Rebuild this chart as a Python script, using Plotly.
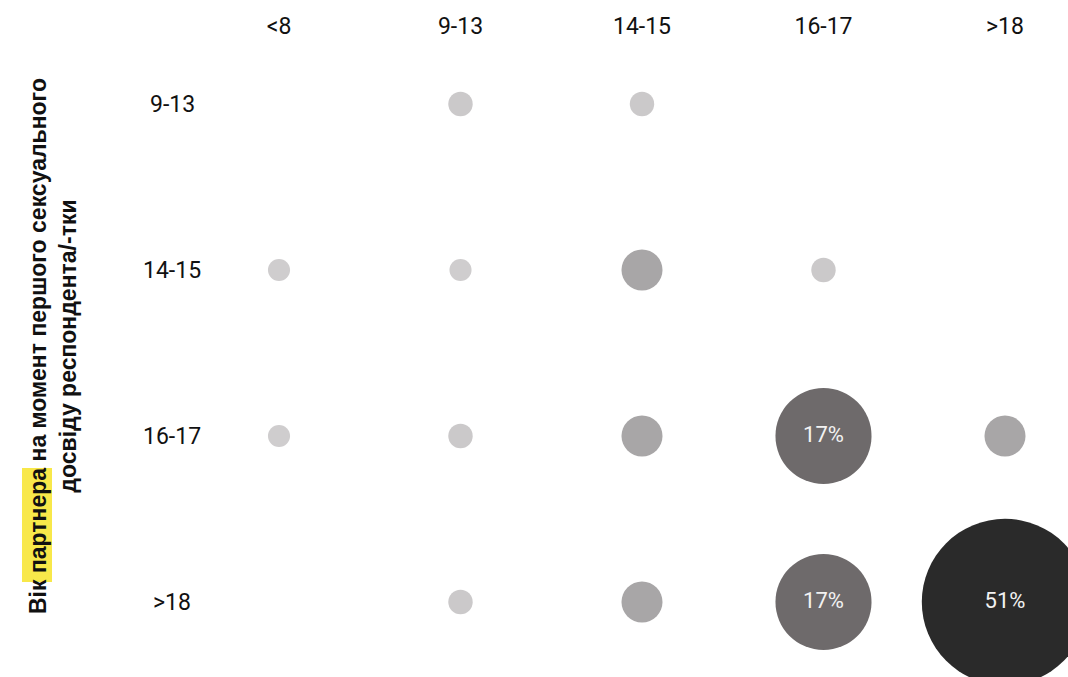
import plotly.graph_objects as go

# Data
x_labels = ["<8", "9-13", "14-15", "16-17", ">18"]          # respondent age (columns)
y_labels = ["9-13", "14-15", "16-17", ">18"]                # partner age (rows)

point_x = ["9-13", "14-15",
           "<8", "9-13", "14-15", "16-17",
           "<8", "9-13", "14-15", "16-17", ">18",
           "9-13", "14-15", "16-17", ">18"]
point_y = ["9-13", "9-13",
           "14-15", "14-15", "14-15", "14-15",
           "16-17", "16-17", "16-17", "16-17", "16-17",
           ">18", ">18", ">18", ">18"]
share = [1.1, 1.1,
         0.9, 0.9, 3.1, 1.1,
         0.9, 1.1, 3.1, 17, 3.1,
         1.1, 3.1, 17, 51]

title_y = "Вік партнера на момент першого сексуального<br>досвіду респондента/-тки"

W, H = 1068, 677
T = 40

xi = [x_labels.index(v) for v in point_x]
yi = [y_labels.index(v) for v in point_y]
k = 23.3
sizes = [k * v ** 0.5 for v in share]
texts = [f"{v:.0f}%" if v >= 10 else "" for v in share]

cmin, cmax = min(share), max(share)
def pos(v):
    return (v - cmin) / (cmax - cmin)
cscale = [[0, "#cfcdce"], [pos(1.1), "#cbc9ca"], [pos(3.1), "#a8a6a7"],
          [pos(17), "#6e6a6b"], [1, "#2a2a2a"]]

fig = go.Figure()
fig.add_trace(go.Scatter(
    x=xi, y=yi, mode="markers+text",
    text=texts, textposition="middle center",
    textfont=dict(family="Roboto", size=22, color="#f2f2f2"),
    marker=dict(size=sizes, sizemode="diameter", color=share,
                colorscale=cscale, cmin=cmin, cmax=cmax,
                line=dict(width=0), opacity=1),
    hoverinfo="skip", cliponaxis=True,
))

px_per_x = 181.5
x0_px = 279
px_per_y = 166
y0_px = 104 - T
fig.update_xaxes(
    range=[-x0_px / px_per_x, 4 + (W - 1005) / px_per_x],
    side="top", tickvals=list(range(len(x_labels))), ticktext=x_labels,
    showgrid=False, zeroline=False, showline=False, ticks="",
    tickfont=dict(family="Roboto", size=23, color="#111111"),
)
fig.update_yaxes(
    range=[3 + (H - 602) / px_per_y, -y0_px / px_per_y],
    showgrid=False, zeroline=False, showline=False, showticklabels=False,
)

ph = H - T
annotations = []
for i, lab in enumerate(y_labels):
    annotations.append(dict(
        x=172 / W, xref="paper", y=i, yref="y", text=lab, showarrow=False,
        xanchor="center", yanchor="middle",
        font=dict(family="Roboto", size=23, color="#111111")))
annotations.append(dict(
    x=53 / W, xref="paper", y=(H - 346) / ph, yref="paper",
    text="<b>" + title_y + "</b>", textangle=-90, showarrow=False,
    xanchor="center", yanchor="middle", align="center",
    font=dict(family="Liberation Sans, Arial", size=23, color="#111111")))

fig.update_layout(
    width=W, height=H,
    margin=dict(l=0, r=0, t=T, b=0),
    paper_bgcolor="white", plot_bgcolor="white",
    showlegend=False,
    annotations=annotations,
    shapes=[dict(type="rect", xref="paper", yref="paper",
                 x0=22 / W, x1=52 / W, y0=(H - 582) / ph, y1=(H - 468) / ph,
                 fillcolor="#f8e84a", line=dict(width=0), layer="below")],
)

fig.write_html("out.html", config={"displayModeBar": False},
               post_script="document.body.style.margin='0';document.body.style.overflow='hidden';")
